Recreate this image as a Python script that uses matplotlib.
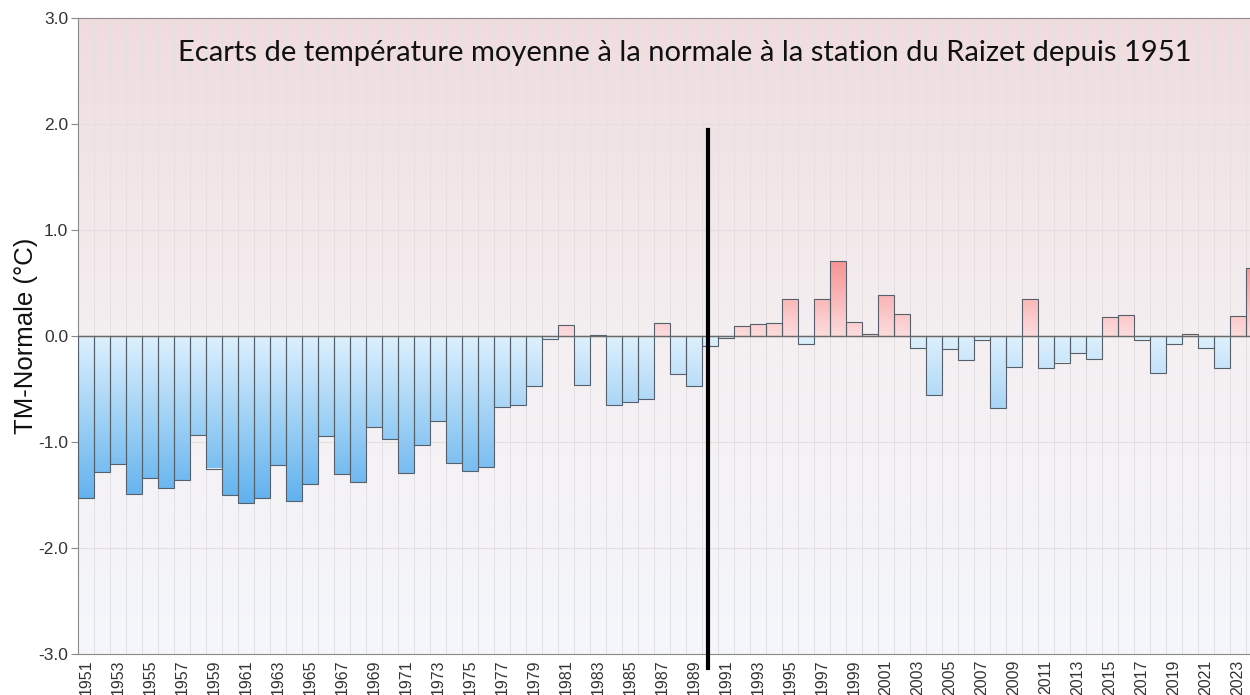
import numpy as np
import matplotlib
matplotlib.use("Agg")
import matplotlib.pyplot as plt
from matplotlib.colors import LinearSegmentedColormap

# données : écart de TM à la normale, station du Raizet
annees = list(range(1951, 2025))
ecarts = [-1.53, -1.28, -1.21, -1.49, -1.34, -1.43, -1.36, -0.93, -1.25, -1.50,
          -1.58, -1.53, -1.22, -1.56, -1.40, -0.94, -1.30, -1.38, -0.86, -0.97,
          -1.29, -1.03, -0.80, -1.20, -1.27, -1.24, -0.67, -0.65, -0.47, -0.03,
          0.10, -0.46, 0.01, -0.65, -0.62, -0.59, 0.12, -0.36, -0.47, -0.09,
          -0.02, 0.09, 0.11, 0.12, 0.35, -0.08, 0.35, 0.71, 0.13, 0.02,
          0.39, 0.21, -0.11, -0.56, -0.12, -0.23, -0.04, -0.68, -0.29, 0.35,
          -0.30, -0.25, -0.16, -0.22, 0.18, 0.20, -0.04, -0.35, -0.08, 0.02,
          -0.11, -0.30, 0.19, 0.64]
annee_rupture = 1989.9
titre = "Ecarts de température moyenne à la normale à la station du Raizet depuis 1951"

plt.rcParams['font.family'] = ['Liberation Sans', 'DejaVu Sans']
plt.rcParams['axes.unicode_minus'] = False

fig = plt.figure(figsize=(12.5, 6.95), dpi=100)
ax = fig.add_axes([78/1250, 41/695, 1172/1250, 636/695])

xmin, xmax = 1950.5, 2023.75
ymin, ymax = -3.0, 3.0

# fond dégradé rose -> blanc bleuté
fond = LinearSegmentedColormap.from_list("fond", ["#f4f7fc", "#f4eff1", "#f0dcde"])
g = np.linspace(0, 1, 256).reshape(-1, 1)
ax.imshow(g, extent=[xmin, xmax, ymin, ymax], origin='lower', cmap=fond,
          aspect='auto', zorder=0)

bleu = LinearSegmentedColormap.from_list("bleu", ["#5aaeee", "#dff0fd"])
rose = LinearSegmentedColormap.from_list("rose", ["#fcdcdd", "#f88e8f"])

barres = ax.bar(annees, ecarts, width=1.0, color='none',
                edgecolor='#56606a', linewidth=0.8, zorder=3)
for b, v in zip(barres, ecarts):
    x0 = b.get_x()
    if v < 0:
        im = ax.imshow(g, extent=[x0, x0 + 1, -1.65, 0], origin='lower',
                       cmap=bleu, aspect='auto', zorder=2)
    else:
        im = ax.imshow(g, extent=[x0, x0 + 1, 0, 0.75], origin='lower',
                       cmap=rose, aspect='auto', zorder=2)
    im.set_clip_path(b)

ax.axhline(0, color='#6a6a6a', lw=1.0, zorder=4)

# grilles
ax.set_xticks([a - 0.5 for a in annees], minor=True)
ax.grid(which='minor', axis='x', color='#e3dfe3', lw=0.7, zorder=1)
ax.grid(which='major', axis='y', color='#e6dde0', lw=0.8, zorder=1)
ax.set_axisbelow(True)

ax.plot([annee_rupture, annee_rupture], [-3.13, 1.94], color='black', lw=3,
        clip_on=False, zorder=6)

ax.set_xlim(xmin, xmax)
ax.set_ylim(ymin, ymax)
ax.set_yticks(np.arange(-3, 3.1, 1.0))
ax.set_yticklabels([f"{t:.1f}" for t in np.arange(-3, 3.1, 1.0)], fontsize=12.5,
                   color='#333333')
ax.set_xticks(annees[::2])
ax.set_xticklabels([str(a) for a in annees[::2]], rotation=90, fontsize=11.5,
                   color='#333333')
ax.tick_params(axis='x', which='both', length=0, pad=4)
ax.tick_params(axis='y', length=5, color='#888888', pad=2)

for s in ['left', 'bottom', 'top']:
    ax.spines[s].set_color('#8a8a8a')
ax.spines['right'].set_visible(False)

ax.set_ylabel("TM-Normale (°C)", fontsize=18.5, color='#111111', labelpad=0)
ax.text(0.518, 0.945, titre, transform=ax.transAxes, ha='center', va='center',
        fontsize=21, family=['Lato', 'DejaVu Sans'], color='#111111', zorder=7)

fig.savefig("out.png", dpi=100)
